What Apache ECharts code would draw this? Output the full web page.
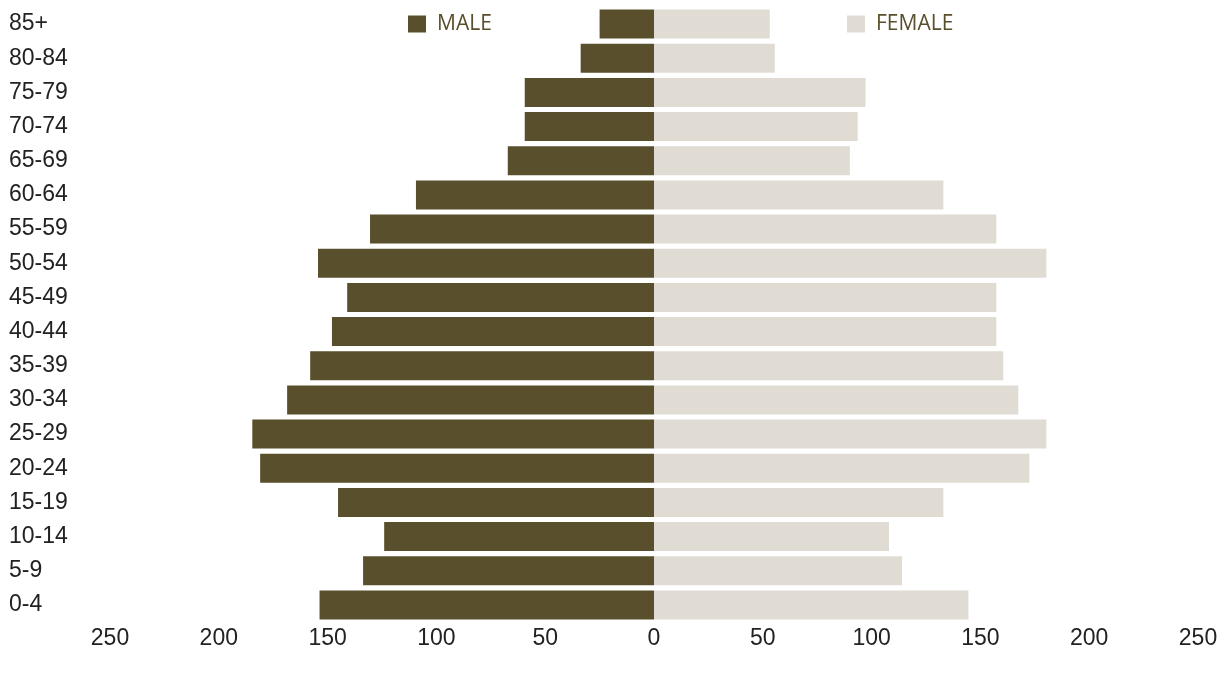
<!DOCTYPE html>
<html><head><meta charset="utf-8">
<script src="https://cdn.jsdelivr.net/npm/echarts@6/dist/echarts.min.js"></script>
<style>html,body{margin:0;padding:0;background:#fff}#c{width:1230px;height:677px}</style>
</head><body><div id="c"></div>
<script>
const categories = ['0-4','5-9','10-14','15-19','20-24','25-29','30-34','35-39','40-44','45-49','50-54','55-59','60-64','65-69','70-74','75-79','80-84','85+'];
const male = [153.7,133.7,124,145.2,181,184.6,168.6,158,148,141,154.4,130.5,109.4,67.2,59.4,59.4,33.7,25];
const female = [144.5,114,108,133,172.5,180.3,167.4,160.5,157.3,157.3,180.3,157.3,133,90,93.6,97.2,55.5,53.2];
const xTicks = [-250,-200,-150,-100,-50,0,50,100,150,200,250];

const chart = echarts.init(document.getElementById('c'));
const legendText = {color:'#5a4f2c', fontSize:21, fontFamily:'Open Sans', padding:[0,0,0,6], lineHeight:22};
chart.setOption({
  animation:false,
  legend:[
    {data:['MALE'], left:408, top:13, padding:0, icon:'rect', itemWidth:18, itemHeight:17, textStyle:legendText},
    {data:['FEMALE'], left:847, top:13, padding:0, icon:'rect', itemWidth:18, itemHeight:17, textStyle:legendText}
  ],
  grid:{left:110, right:32, top:7, bottom:55, containLabel:false},
  xAxis:{type:'value', min:xTicks[0], max:xTicks[xTicks.length-1], interval:50,
    axisLine:{show:false}, axisTick:{show:false}, splitLine:{show:false},
    axisLabel:{formatter:v=>String(Math.abs(v)), color:'#222', fontSize:23, fontFamily:'Liberation Sans', margin:5}},
  yAxis:{type:'category', data:categories, axisLine:{show:false}, axisTick:{show:false},
    axisLabel:{align:'left', margin:101, color:'#222', fontSize:23, fontFamily:'Liberation Sans', padding:[4,0,0,0]}},
  series:[
    {name:'MALE', type:'bar', stack:'s', barCategoryGap:'15%', itemStyle:{color:'#5a4f2c'}, data:male.map(v=>-v)},
    {name:'FEMALE', type:'bar', stack:'s', barCategoryGap:'15%', itemStyle:{color:'#e0dcd4'}, data:female}
  ]
});
</script></body></html>
